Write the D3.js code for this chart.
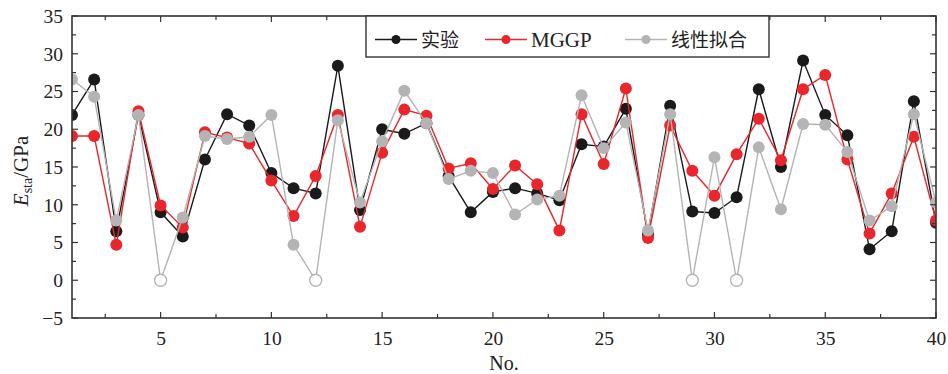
<!DOCTYPE html>
<html><head><meta charset="utf-8">
<script src="https://cdn.jsdelivr.net/npm/d3@7"></script>
<style>body{margin:0;background:#fff}svg{display:block}</style>
</head><body>
<svg id="c" width="948" height="374"></svg>
<script>
const sampleNo = d3.range(1, 41);
const expValues = [21.9,26.6,6.5,21.9,9.0,5.8,16.0,22.0,20.5,14.2,12.2,11.5,28.4,9.3,20.0,19.4,20.8,13.8,9.0,11.7,12.2,11.5,10.6,18.0,17.7,22.7,6.1,23.1,9.1,8.9,11.0,25.3,15.0,29.1,21.9,19.2,4.1,6.5,23.7,7.6];
const mggpValues = [19.1,19.1,4.7,22.4,9.9,7.0,19.6,18.9,18.1,13.2,8.5,13.8,21.9,7.1,16.9,22.6,21.8,14.8,15.5,12.1,15.2,12.7,6.6,22.0,15.4,25.4,5.6,20.5,14.5,11.2,16.7,21.4,15.9,25.3,27.2,16.0,6.2,11.5,19.0,7.9];
const linValues = [26.6,24.3,7.9,21.9,0,8.3,19.1,18.7,19.0,21.9,4.7,0,21.2,10.3,18.4,25.1,20.8,13.4,14.5,14.2,8.7,10.7,11.2,24.5,17.5,20.9,6.6,22.0,0,16.3,0,17.6,9.4,20.7,20.6,17.0,7.9,9.8,22.0,10.3];
const xTickLabels = [5,10,15,20,25,30,35,40];
const yTickLabels = [-5,0,5,10,15,20,25,30,35];
const seriesNames = ["实验","MGGP","线性拟合"];

const series = [
  {name: seriesNames[0], values: expValues, color: "#1a1a1a"},
  {name: seriesNames[1], values: mggpValues, color: "#e8262b"},
  {name: seriesNames[2], values: linValues, color: "#b4b4b4"}
];

const svg = d3.select("#c");
const L = 72, R = 936, T = 16, B = 318;
const x = d3.scaleLinear().domain([1, 40]).range([L, R]);
const y = d3.scaleLinear().domain([-5, 35]).range([B, T]);
const serif = "'Liberation Serif','DejaVu Serif',serif";
const axisColor = "#333";
const fs = 19.5;

svg.append("defs").append("clipPath").attr("id", "plotclip")
  .append("rect").attr("x", L).attr("y", T).attr("width", R - L).attr("height", B - T);

// series
const line = d3.line().x((d, i) => x(sampleNo[i])).y(d => y(d));
const plot = svg.append("g").attr("clip-path", "url(#plotclip)");
series.forEach(s => {
  const g = plot.append("g");
  g.append("path").attr("d", line(s.values)).attr("fill", "none")
    .attr("stroke", s.color).attr("stroke-width", 1.4);
  g.selectAll("circle").data(s.values).join("circle")
    .attr("cx", (d, i) => x(sampleNo[i])).attr("cy", d => y(d)).attr("r", 6)
    .attr("fill", d => (s === series[2] && d === 0) ? "#fff" : s.color)
    .attr("stroke", s.color).attr("stroke-width", d => (s === series[2] && d === 0) ? 1.3 : 0);
});

// frame & ticks
const minorX = d3.range(2.5, 40.01, 2.5);
const minorY = d3.range(-5, 35.01, 2.5);
const axG = svg.append("g").attr("stroke", axisColor).attr("stroke-width", 1.2);
minorX.forEach(v => {
  const len = (v % 5 === 0) ? 6 : 4;
  axG.append("line").attr("x1", x(v)).attr("x2", x(v)).attr("y1", B).attr("y2", B - len);
  axG.append("line").attr("x1", x(v)).attr("x2", x(v)).attr("y1", T).attr("y2", T + len);
});
minorY.forEach(v => {
  const len = (v % 5 === 0) ? 6 : 4;
  axG.append("line").attr("y1", y(v)).attr("y2", y(v)).attr("x1", L).attr("x2", L + len);
  axG.append("line").attr("y1", y(v)).attr("y2", y(v)).attr("x1", R).attr("x2", R - len);
});
svg.append("rect").attr("x", L).attr("y", T).attr("width", R - L).attr("height", B - T)
  .attr("fill", "none").attr("stroke", axisColor).attr("stroke-width", 1.6);

// tick labels via d3 axes
const xAxis = d3.axisBottom(x).tickValues(xTickLabels).tickSize(0).tickPadding(13);
const gx = svg.append("g").attr("transform", `translate(0,${B})`).call(xAxis);
gx.select(".domain").remove();
gx.selectAll("text").attr("font-family", serif).attr("font-size", fs).attr("fill", "#222");
const yAxis = d3.axisLeft(y).tickValues(yTickLabels).tickSize(0).tickPadding(9)
  .tickFormat(d => d < 0 ? "\u2212" + Math.abs(d) : d);
const gy = svg.append("g").attr("transform", `translate(${L},0)`).call(yAxis);
gy.select(".domain").remove();
gy.selectAll("text").attr("font-family", serif).attr("font-size", fs).attr("fill", "#222");

// axis titles
svg.append("text").attr("x", (L + R) / 2).attr("y", 370).attr("text-anchor", "middle")
  .attr("font-family", serif).attr("font-size", 20).attr("fill", "#222").text("No.");
const yl = svg.append("text").attr("transform", `translate(28,171) rotate(-90)`)
  .attr("text-anchor", "middle").attr("font-family", serif).attr("font-size", 21).attr("fill", "#222");
yl.append("tspan").attr("font-style", "italic").text("E");
yl.append("tspan").attr("font-size", 14).attr("dy", 4).text("sta");
yl.append("tspan").attr("dy", -4).text("/GPa");

// legend
const lg = svg.append("g");
lg.append("rect").attr("x", 366).attr("y", T).attr("width", 403).attr("height", 41)
  .attr("fill", "#fff").attr("stroke", axisColor).attr("stroke-width", 1.4);
const legX = [375, 485, 625];
series.forEach((s, i) => {
  const cy = 39.5;
  lg.append("line").attr("x1", legX[i]).attr("x2", legX[i] + 42).attr("y1", cy).attr("y2", cy)
    .attr("stroke", s.color).attr("stroke-width", 1.4);
  lg.append("circle").attr("cx", legX[i] + 21).attr("cy", cy).attr("r", 4.5).attr("fill", s.color);
  lg.append("text").attr("x", legX[i] + 46).attr("y", cy + 7)
    .attr("font-family", i === 1 ? serif : "'Noto Sans CJK SC',sans-serif")
    .attr("font-size", i === 1 ? 21 : 19).attr("fill", "#222").text(s.name);
});
</script>
</body></html>
